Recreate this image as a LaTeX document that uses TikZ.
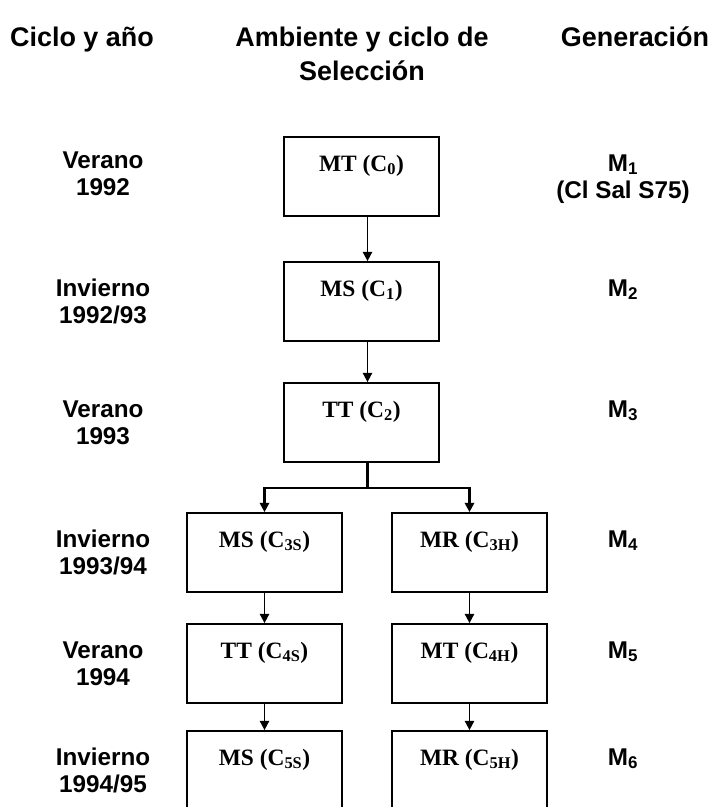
\documentclass[tikz,border=0pt]{standalone}
\usepackage{fontspec}
\setmainfont{Liberation Sans}
\newfontfamily\boxfont{Liberation Serif}
\usetikzlibrary{positioning, arrows.meta}

\begin{document}
\begin{tikzpicture}[x=0.03cm, y=-0.03cm,
  selbox/.style={rectangle, draw=black, line width=1.5pt, minimum width=4.65cm, minimum height=2.37cm},
  boxtext/.style={anchor=base, font=\boxfont\fontsize{20}{24}\selectfont\bfseries},
  rowlabel/.style={anchor=base, align=center, font=\fontsize{20.7}{23.4}\selectfont\bfseries},
  headlabel/.style={anchor=base, align=center, font=\fontsize{23}{29}\selectfont\bfseries},
  flow/.style={-{Triangle[length=8pt, width=8pt]}, line width=1.5pt}
]
\useasboundingbox (0,0) rectangle (717,807);

% Headers
\node[headlabel] (hcycle) at (82,46) {Ciclo y año};
\node[headlabel] (henv) at (362,80) {Ambiente y ciclo de\\Selección};
\node[headlabel] (hgen) at (635,46) {Generación};

% Selection boxes, main column
\node[selbox] (c0) at (361.5,176.5) {};
\node[boxtext] (t0) at (361.5,171) {MT (C\textsubscript{0})};
\node[selbox] (c1) at (361.5,301.5) {};
\node[boxtext] (t1) at (361.5,296) {MS (C\textsubscript{1})};
\node[selbox] (c2) at (361.5,422.5) {};
\node[boxtext] (t2) at (361.5,417) {TT (C\textsubscript{2})};

% Left branch
\node[selbox] (c3s) at (264.5,552.5) {};
\node[boxtext] (t3s) at (264.5,547) {MS (C\textsubscript{3S})};
\node[selbox] (c4s) at (264.5,663.5) {};
\node[boxtext] (t4s) at (264.5,658) {TT (C\textsubscript{4S})};
\node[selbox] (c5s) at (264.5,770.5) {};
\node[boxtext] (t5s) at (264.5,765) {MS (C\textsubscript{5S})};

% Right branch
\node[selbox] (c3h) at (469.5,552.5) {};
\node[boxtext] (t3h) at (469.5,547) {MR (C\textsubscript{3H})};
\node[selbox] (c4h) at (469.5,663.5) {};
\node[boxtext] (t4h) at (469.5,658) {MT (C\textsubscript{4H})};
\node[selbox] (c5h) at (469.5,770.5) {};
\node[boxtext] (t5h) at (469.5,765) {MR (C\textsubscript{5H})};

% Cycle and year (base = last line)
\node[rowlabel] (y0) at (103,195.5) {Verano\\1992};
\node[rowlabel] (y1) at (103,323.5) {Invierno\\1992/93};
\node[rowlabel] (y2) at (103,444.5) {Verano\\1993};
\node[rowlabel] (y3) at (103,574.5) {Invierno\\1993/94};
\node[rowlabel] (y4) at (103,685.5) {Verano\\1994};
\node[rowlabel] (y5) at (103,792.5) {Invierno\\1994/95};

% Generation
\node[rowlabel] (g1) at (623,198.5) {M\textsubscript{1}\\(Cl Sal S75)};
\node[rowlabel] (g2) at (623,296) {M\textsubscript{2}};
\node[rowlabel] (g3) at (623,417) {M\textsubscript{3}};
\node[rowlabel] (g4) at (623,547) {M\textsubscript{4}};
\node[rowlabel] (g5) at (623,658) {M\textsubscript{5}};
\node[rowlabel] (g6) at (623,765) {M\textsubscript{6}};

% Arrows
\draw[flow] ([xshift=0.18cm]c0.south) -- ([xshift=0.18cm]c1.north);
\draw[flow] ([xshift=0.18cm]c1.south) -- ([xshift=0.18cm]c2.north);

% Split into two branches
\coordinate (split) at (367.5,488);
\draw[line width=1.9pt] ([xshift=0.18cm]c2.south) -- (split);
\draw[flow, line width=1.9pt] (split) -| (c3s.north);
\draw[flow, line width=1.9pt] (split) -| (c3h.north);

\draw[flow] (c3s) -- (c4s);
\draw[flow] (c4s) -- (c5s);
\draw[flow] (c3h) -- (c4h);
\draw[flow] (c4h) -- (c5h);

\end{tikzpicture}
\end{document}
